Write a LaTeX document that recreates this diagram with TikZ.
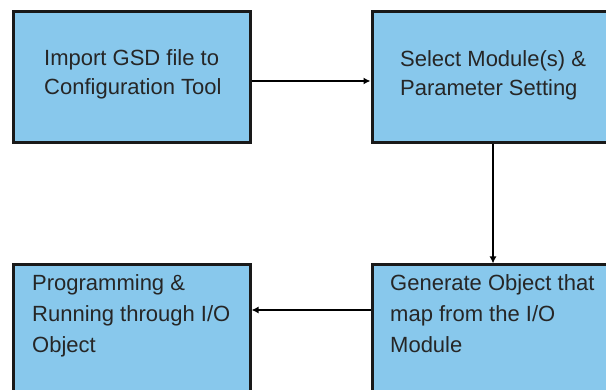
\documentclass[tikz,border=0pt]{standalone}
\usepackage{fontspec}
\setmainfont{Liberation Sans}
\usetikzlibrary{arrows.meta}
\definecolor{boxblue}{RGB}{136,200,236}
\tikzset{
  box/.style={draw=black!90, line width=3pt, fill=boxblue},
  lbl/.style={anchor=north west, align=left, inner sep=0pt, text=black!85},
  lbltop/.style={lbl, font=\fontsize{22}{29.5}\selectfont},
  lblbot/.style={lbl, font=\fontsize{22}{31}\selectfont},
  conn/.style={draw=black, line width=2.3pt, -{Latex[length=7pt,width=7pt]}}
}
\begin{document}
\begin{tikzpicture}[x=1pt,y=-1pt]
\useasboundingbox (0,0) rectangle (606,390);
\clip (0,0) rectangle (606,390);
\fill[white] (0,0) rectangle (606,390);
% boxes
\path[box] (13,12) rectangle (250,143);
\path[box] (372,12) rectangle (615,143);
\path[box] (13,265) rectangle (250,400);
\path[box] (372,265) rectangle (615,400);
% anchors
\coordinate (b1r) at (251.5,81);
\coordinate (b2l) at (370.5,81);
\coordinate (b2b) at (493,144.5);
\coordinate (b4t) at (493,263.5);
\coordinate (b4l) at (370.5,310);
\coordinate (b3r) at (251.5,310);
% labels
\node[lbltop] (t1) at (44,49) {Import GSD file to\\Configuration Tool};
\node[lbltop] (t2) at (400,50) {Select Module(s) \&\\Parameter Setting};
\node[lblbot] (t3) at (32,274) {Programming \&\\Running through I/O\\Object};
\node[lblbot] (t4) at (390,274) {Generate Object that\\map from the I/O\\Module};
% connectors
\draw[conn] (b1r) -- (b2l);
\draw[conn] (b2b) -- (b4t);
\draw[conn] (b4l) -- (b3r);
\end{tikzpicture}
\end{document}
